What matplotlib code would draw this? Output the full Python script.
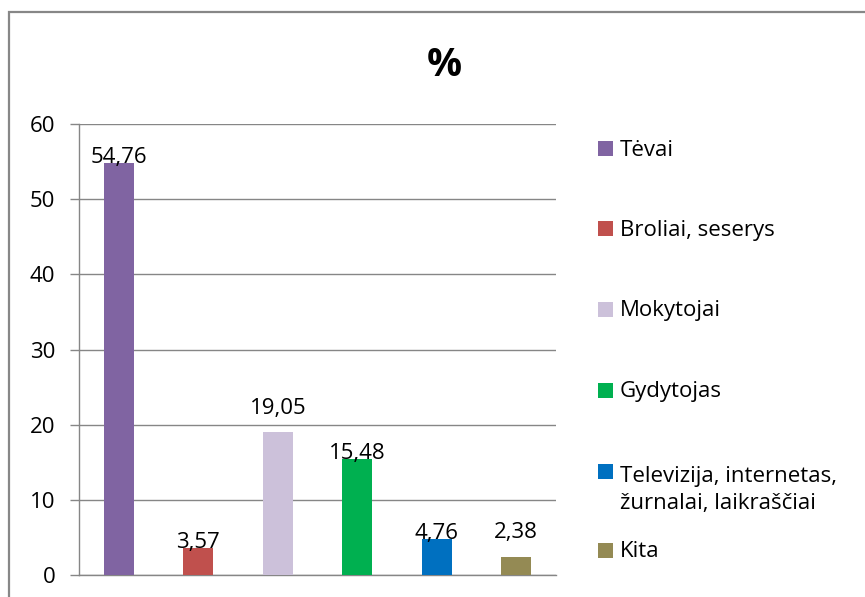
import matplotlib
matplotlib.use("Agg")
import matplotlib.pyplot as plt
from matplotlib.patches import Rectangle

categories = ["Tėvai", "Broliai, seserys", "Mokytojai", "Gydytojas",
              "Televizija, internetas,\nžurnalai, laikraščiai", "Kita"]
values = [54.76, 3.57, 19.05, 15.48, 4.76, 2.38]
yticks = [0, 10, 20, 30, 40, 50, 60]
title = "%"

colors = ["#8064A2", "#C0504D", "#CCC1DA", "#00B050", "#0070C0", "#948A54"]
label_offsets_px = [0, 0, 18, 0, 0, 19]
legend_centers_px = [149, 229, 309, 390, 471, 550]
LINE_GAP_PX = 31

FONT = ["Open Sans", "DejaVu Sans"]
plt.rcParams["font.family"] = FONT
FS = 16
GRID = "#868686"

W, H = 865, 597
fig = plt.figure(figsize=(W / 100, H / 100), dpi=100)


def fx(px):
    return px / W


def fy(py):
    return 1 - py / H


# outer chart border
fig.patches.append(Rectangle((fx(9), fy(700)), fx(1000), fy(12) - fy(700),
                             transform=fig.transFigure, fill=False,
                             edgecolor="#878787", lw=1.6))

ax = fig.add_axes([fx(79), fy(575), fx(556) - fx(79), fy(124) - fy(575)])
x = list(range(len(values)))
ax.bar(x, values, width=0.38, color=colors, zorder=3)
ax.set_xlim(-0.5, len(values) - 0.5)
ax.set_ylim(yticks[0], yticks[-1])
ax.set_yticks(yticks)
ax.set_xticks([])
ax.yaxis.grid(True, color=GRID, lw=1)
ax.set_axisbelow(True)
for s in ["top", "right"]:
    ax.spines[s].set_visible(False)
for s in ["left", "bottom"]:
    ax.spines[s].set_color(GRID)
    ax.spines[s].set_linewidth(1)
ax.tick_params(axis="y", direction="out", length=6.5, width=1, color=GRID,
               pad=10.5, labelsize=FS)

for i, v in enumerate(values):
    ax.annotate(f"{v:.2f}".replace(".", ","), (i, v),
                xytext=(0, label_offsets_px[i]), textcoords="offset pixels",
                ha="center", va="baseline", fontsize=FS, zorder=4)

fig.text(fx(444), fy(65), title, ha="center", va="center",
         fontsize=28, fontweight="bold")

# legend
for i, (lab, c) in enumerate(zip(categories, colors)):
    yc = legend_centers_px[i]
    nl = lab.count("\n")
    fig.patches.append(Rectangle((fx(598), fy(yc + 7.5)), fx(15), fy(yc - 7.5) - fy(yc + 7.5),
                                 transform=fig.transFigure, facecolor=c,
                                 edgecolor="none"))
    fig.text(fx(620), fy(yc + 7 + nl * LINE_GAP_PX), lab, ha="left",
             va="baseline", fontsize=FS, linespacing=1.4)

fig.savefig("out.png", dpi=100)
